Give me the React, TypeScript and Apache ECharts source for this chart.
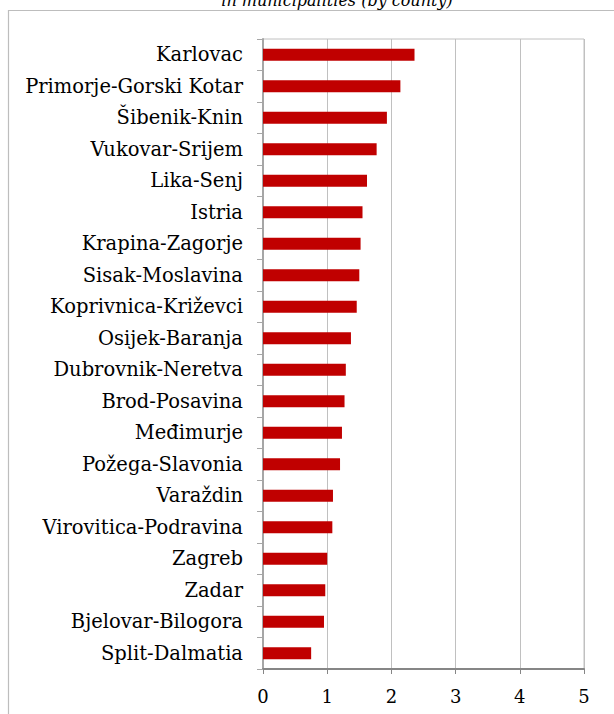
import React, { useEffect, useRef } from "react";
import * as echarts from "echarts";

const counties = [
  "Karlovac",
  "Primorje-Gorski Kotar",
  "Šibenik-Knin",
  "Vukovar-Srijem",
  "Lika-Senj",
  "Istria",
  "Krapina-Zagorje",
  "Sisak-Moslavina",
  "Koprivnica-Križevci",
  "Osijek-Baranja",
  "Dubrovnik-Neretva",
  "Brod-Posavina",
  "Međimurje",
  "Požega-Slavonia",
  "Varaždin",
  "Virovitica-Podravina",
  "Zagreb",
  "Zadar",
  "Bjelovar-Bilogora",
  "Split-Dalmatia",
];

const values = [
  2.36, 2.14, 1.93, 1.77, 1.62, 1.55, 1.52, 1.5, 1.46, 1.37, 1.29, 1.27, 1.23,
  1.2, 1.09, 1.08, 1.0, 0.97, 0.95, 0.75,
];

const xTicks = [0, 1, 2, 3, 4, 5];
const titleText = "in municipalities (by county)";

const FONT = "'DejaVu Serif', serif";

export default function App() {
  const ref = useRef<HTMLDivElement>(null);
  useEffect(() => {
    if (!ref.current) return;
    const chart = echarts.init(ref.current, undefined, { renderer: "svg" });
    chart.setOption({
      animation: false,
      backgroundColor: "#ffffff",
      graphic: [
        {
          type: "rect",
          shape: { x: 8.5, y: 10.5, width: 700, height: 800 },
          style: { fill: "none", stroke: "#bdbdbd", lineWidth: 1.2 },
          z: 0,
        },
        {
          type: "text",
          x: 337,
          y: 8,
          style: {
            text: titleText,
            font: `italic 16px ${FONT}`,
            fill: "#000",
            textAlign: "center",
            textVerticalAlign: "bottom",
          },
        },
      ],
      grid: {
        left: 263,
        right: 30,
        top: 39,
        bottom: 45,
        show: true,
        borderColor: "#c0c0c0",
        borderWidth: 1,
        containLabel: false,
      },
      xAxis: {
        type: "value",
        min: 0,
        max: 5,
        interval: 1,
        axisLine: { show: true, lineStyle: { color: "#868686", width: 2 } },
        axisTick: { show: true, length: 5, lineStyle: { color: "#868686", width: 1 } },
        axisLabel: {
          color: "#000",
          fontFamily: FONT,
          fontSize: 18,
          margin: 18,
          formatter: (v: number) => (xTicks.includes(v) ? String(v) : ""),
        },
        splitLine: { show: true, lineStyle: { color: "#c0c0c0", width: 1 } },
      },
      yAxis: {
        type: "category",
        data: counties,
        inverse: true,
        axisLine: { show: true, lineStyle: { color: "#a6a6a6", width: 2 } },
        axisTick: { show: true, length: 6, lineStyle: { color: "#a6a6a6", width: 1 } },
        axisLabel: {
          color: "#000",
          fontFamily: FONT,
          fontSize: 19.5,
          margin: 20,
        },
      },
      series: [
        {
          type: "bar",
          data: values,
          barWidth: 12,
          itemStyle: { color: "#c00000" },
        },
      ],
    });
    return () => chart.dispose();
  }, []);
  return (
    <div
      ref={ref}
      style={{ position: "fixed", left: 0, top: 0, width: 614, height: 714 }}
    />
  );
}
